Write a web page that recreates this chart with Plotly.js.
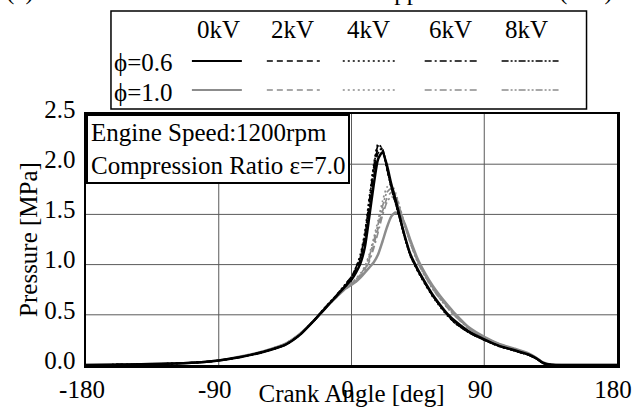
<!DOCTYPE html>
<html><head><meta charset="utf-8">
<script src="https://cdn.plot.ly/plotly-3.0.1.min.js"></script>
<style>html,body{margin:0;padding:0;background:#fff;overflow:hidden;} #chart{width:634px;height:407px;}</style>
</head><body><div id="chart"></div>
<script>
// ---- data ----
const crankAngle = [-180,-150,-120,-100,-90,-75,-60,-45,-35,-25,-20,-15,-10,-5,0,3,6,9,12,15,18,21,24,27,30,33,36,40,45,50,55,60,65,70,80,90,100,110,120,125,130,135,150,180];

// phi = 0.6
const p06_0kV = [0,0.005,0.015,0.03,0.045,0.08,0.13,0.2,0.3,0.45,0.53,0.61,0.69,0.77,0.85,0.92,1.01,1.17,1.47,1.79,2.05,2.12,1.99,1.80,1.64,1.46,1.29,1.10,0.95,0.82,0.70,0.60,0.51,0.44,0.33,0.255,0.19,0.15,0.105,0.07,0.02,0.003,0,0];
const p06_2kV = [0,0.005,0.015,0.03,0.045,0.08,0.13,0.2,0.3,0.45,0.53,0.61,0.69,0.78,0.87,0.95,1.05,1.23,1.53,1.86,2.11,2.14,1.97,1.78,1.62,1.45,1.28,1.09,0.94,0.81,0.69,0.59,0.50,0.43,0.32,0.25,0.19,0.145,0.10,0.065,0.018,0.003,0,0];
const p06_4kV = [0,0.005,0.015,0.03,0.045,0.08,0.13,0.2,0.3,0.45,0.54,0.62,0.70,0.79,0.88,0.97,1.10,1.32,1.66,1.99,2.20,2.15,1.95,1.76,1.60,1.44,1.27,1.08,0.93,0.80,0.68,0.58,0.49,0.42,0.32,0.25,0.185,0.145,0.10,0.065,0.018,0.003,0,0];
const p06_6kV = [0,0.005,0.015,0.03,0.045,0.08,0.13,0.2,0.3,0.45,0.53,0.61,0.69,0.78,0.87,0.96,1.07,1.27,1.59,1.92,2.15,2.14,1.96,1.77,1.61,1.44,1.28,1.09,0.94,0.81,0.69,0.59,0.50,0.42,0.32,0.25,0.19,0.145,0.10,0.065,0.018,0.003,0,0];
const p06_8kV = [0,0.005,0.015,0.03,0.045,0.08,0.13,0.2,0.3,0.45,0.54,0.62,0.70,0.79,0.88,0.97,1.08,1.29,1.62,1.96,2.18,2.15,1.96,1.77,1.61,1.45,1.28,1.09,0.94,0.81,0.69,0.59,0.50,0.42,0.32,0.25,0.19,0.145,0.10,0.065,0.018,0.003,0,0];

// phi = 1.0
const p10_0kV = [0,0.005,0.015,0.03,0.045,0.085,0.135,0.21,0.31,0.45,0.53,0.61,0.68,0.75,0.80,0.83,0.87,0.92,0.97,1.02,1.10,1.23,1.37,1.48,1.52,1.49,1.41,1.24,1.05,0.91,0.79,0.69,0.60,0.515,0.37,0.28,0.21,0.165,0.115,0.075,0.025,0.005,0,0];
const p10_2kV = [0,0.005,0.015,0.03,0.045,0.085,0.135,0.21,0.31,0.45,0.53,0.61,0.68,0.75,0.81,0.85,0.89,0.95,1.05,1.19,1.36,1.53,1.66,1.72,1.67,1.54,1.40,1.22,1.03,0.89,0.77,0.67,0.58,0.50,0.36,0.275,0.21,0.16,0.11,0.072,0.023,0.005,0,0];
const p10_4kV = [0,0.005,0.015,0.03,0.045,0.085,0.135,0.21,0.31,0.45,0.53,0.61,0.68,0.76,0.81,0.86,0.91,0.98,1.10,1.26,1.44,1.63,1.77,1.80,1.71,1.56,1.40,1.21,1.02,0.88,0.76,0.66,0.57,0.49,0.36,0.27,0.21,0.16,0.11,0.072,0.023,0.005,0,0];
const p10_6kV = [0,0.005,0.015,0.03,0.045,0.085,0.135,0.21,0.31,0.45,0.53,0.61,0.68,0.75,0.80,0.84,0.88,0.94,1.03,1.16,1.32,1.49,1.62,1.68,1.64,1.53,1.40,1.22,1.03,0.89,0.77,0.67,0.58,0.50,0.36,0.275,0.21,0.16,0.11,0.072,0.023,0.005,0,0];
const p10_8kV = [0,0.005,0.015,0.03,0.045,0.085,0.135,0.21,0.31,0.45,0.53,0.61,0.68,0.76,0.81,0.85,0.90,0.97,1.08,1.23,1.40,1.58,1.72,1.76,1.69,1.55,1.40,1.21,1.02,0.88,0.76,0.66,0.57,0.49,0.36,0.27,0.21,0.16,0.11,0.072,0.023,0.005,0,0];

const voltages = ['0kV','2kV','4kV','6kV','8kV'];
const ratios = ['\u03D5=0.6','\u03D5=1.0'];
const infoLines = ['Engine Speed:1200rpm','Compression Ratio \u03B5=7.0'];
const captionParts = ['(a)','Electric Field Applied','(\u03B5=7)'];
const xTicks = [-180,-90,0,90,180];
const yTicks = [0,0.5,1.0,1.5,2.0,2.5];
const xTitle = 'Crank Angle [deg]';
const yTitle = 'Pressure [MPa]';

// ---- styling / layout ----
const series = [[p06_0kV,p06_2kV,p06_4kV,p06_6kV,p06_8kV],[p10_0kV,p10_2kV,p10_4kV,p10_6kV,p10_8kV]];
const colors = ['#000000','#8c8c8c'];
const dashes = ['solid','6px,4px','2px,3px','7px,3px,2px,3px','7px,2px,2px,2px,2px,2px'];
const FONT = '"Liberation Serif","Times New Roman",serif';
const GRID = '#5a5a5a';
const W = 634, H = 407, M = {l:86, r:16.5, t:114, b:42};
const plotW = W - M.l - M.r, plotH = H - M.t - M.b;
const px = x => (x - M.l) / plotW;
const py = y => (H - M.b - y) / plotH;

const traces = [];
[1,0].forEach(r => {
  voltages.forEach((v, i) => {
    traces.push({
      x: crankAngle, y: series[r][i], mode: 'lines', name: ratios[r] + ' ' + v,
      line: {color: colors[r], width: i === 0 ? 2.5 : 1.7, dash: dashes[i], shape: 'spline', smoothing: 0.6},
      showlegend: false, hoverinfo: 'skip'
    });
  });
});

const shapes = [];
const annotations = [];
// grid lines built from the tick arrays
xTicks.slice(1, -1).forEach(v => shapes.push({type:'line', xref:'x', yref:'paper', x0:v, x1:v, y0:0, y1:1,
  line:{color:GRID, width:1}, layer:'below'}));
yTicks.slice(1, -1).forEach(v => shapes.push({type:'line', xref:'paper', yref:'y', x0:0, x1:1, y0:v, y1:v,
  line:{color:GRID, width:1}, layer:'below'}));
// legend table
shapes.push({type:'rect', xref:'paper', yref:'paper', x0:px(111), x1:px(587), y0:py(109), y1:py(11),
  line:{color:'#000', width:1.5}, fillcolor:'#fff', layer:'above'});
const colCenters = [219, 293, 369, 451, 527];
const sampleX = [[192,242],[267,320],[343,395],[425,478],[502,559]];
const rowY = [61, 90];
const rowTextY = [62.5, 92.5];
voltages.forEach((v, i) => {
  annotations.push({xref:'paper', yref:'paper', x:px(colCenters[i]), y:py(29), xanchor:'center', yanchor:'middle',
    text:v, showarrow:false, font:{family:FONT, size:25, color:'#000'}});
  ratios.forEach((r, j) => {
    shapes.push({type:'line', xref:'paper', yref:'paper', x0:px(sampleX[i][0]), x1:px(sampleX[i][1]),
      y0:py(rowY[j]), y1:py(rowY[j]), line:{color:colors[j], width: i===0?2:1.5, dash:dashes[i]}, layer:'above'});
  });
});
ratios.forEach((r, j) => {
  annotations.push({xref:'paper', yref:'paper', x:px(112), y:py(rowTextY[j]), xanchor:'left', yanchor:'middle',
    text:r, showarrow:false, font:{family:FONT, size:25, color:'#000'}});
});
// info box
annotations.push({xref:'paper', yref:'paper', x:0, y:1, xanchor:'left', yanchor:'top', align:'left',
  text: infoLines.join('<br>'), showarrow:false, bgcolor:'#fff', bordercolor:'#000', borderwidth:2, borderpad:3,
  font:{family:FONT, size:25, color:'#000'}});
// caption cut off at the top edge
const capY = py(7);
annotations.push({xref:'paper', yref:'paper', x:px(4), y:capY, xanchor:'left', yanchor:'bottom', text:captionParts[0], showarrow:false, font:{family:FONT, size:25, color:'#000'}});
annotations.push({xref:'paper', yref:'paper', x:px(459), y:capY, xanchor:'right', yanchor:'bottom', text:captionParts[1], showarrow:false, font:{family:FONT, size:25, color:'#000'}});
annotations.push({xref:'paper', yref:'paper', x:px(557), y:capY, xanchor:'left', yanchor:'bottom', text:captionParts[2], showarrow:false, font:{family:FONT, size:25, color:'#000'}});

const layout = {
  width: W, height: H, margin: M, paper_bgcolor:'#fff', plot_bgcolor:'#fff',
  font:{family:FONT, size:25, color:'#000'},
  xaxis:{range:[-180,180], tickvals:xTicks, ticktext:xTicks.map(String), showgrid:false,
    zeroline:false, showline:true, linecolor:'#000', linewidth:2.5, mirror:true, ticks:'',
    ticklabeloverflow:'allow', ticklabelshift:-4, tickfont:{family:FONT, size:25, color:'#000'},
    title:{text:xTitle, font:{family:FONT, size:25, color:'#000'}, standoff:0}},
  yaxis:{range:[0,2.5], tickvals:yTicks, ticktext:yTicks.map(v=>v.toFixed(1)), showgrid:false,
    zeroline:false, showline:true, linecolor:'#000', linewidth:2.5, mirror:true, ticks:'',
    ticklabeloverflow:'allow', ticklabelshift:-5, ticklabelstandoff:3,
    tickfont:{family:FONT, size:25, color:'#000'},
    title:{text:yTitle, font:{family:FONT, size:25, color:'#000'}, standoff:0}},
  shapes, annotations, showlegend:false
};
Plotly.newPlot('chart', traces, layout, {displayModeBar:false, staticPlot:true});
</script></body></html>
